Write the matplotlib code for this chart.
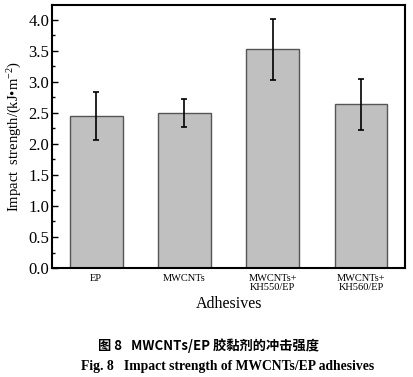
import matplotlib.pyplot as plt
import numpy as np

# impact strength of the adhesives, kJ/m^2
categories = ['EP', 'MWCNTs', 'MWCNTs+\nKH550/EP', 'MWCNTs+\nKH560/EP']
strength = [2.45, 2.50, 3.53, 2.64]
err_low = [0.39, 0.23, 0.50, 0.41]
err_high = [0.38, 0.23, 0.49, 0.40]

plt.rcParams['font.family'] = ['Liberation Serif', 'DejaVu Serif']
plt.rcParams['mathtext.fontset'] = 'custom'
plt.rcParams['mathtext.rm'] = 'Liberation Serif'
plt.rcParams['mathtext.it'] = 'Liberation Serif:italic'

fig = plt.figure(figsize=(4.13, 3.77), dpi=100)
ax = fig.add_axes([0.126, 0.289, 0.855, 0.698])

x = np.arange(len(categories))
ax.bar(x, strength, width=0.6, color='#c0c0c0', edgecolor='#555555', linewidth=1.0,
       yerr=[err_low, err_high], capsize=2.5,
       error_kw=dict(ecolor='black', elinewidth=1.2, capthick=1.2))

ax.set_xlim(-0.5, 3.5)
ax.set_ylim(0, 4.24)
ax.set_yticks(np.arange(0, 4.01, 0.5))
ax.set_yticks(np.arange(0.25, 4.2, 0.5), minor=True)
ax.set_yticklabels(['%.1f' % v for v in np.arange(0, 4.01, 0.5)], fontsize=12)
ax.set_xticks(x)
ax.set_xticklabels(categories, fontsize=7.5, linespacing=1.1)
ax.tick_params(axis='y', which='both', direction='in', right=False, width=1.0)
ax.tick_params(axis='y', which='major', length=4, pad=2)
ax.tick_params(axis='y', which='minor', length=2.5)
ax.tick_params(axis='x', length=0, pad=4)
for s in ax.spines.values():
    s.set_linewidth(1.5)

ax.set_ylabel('Impact  strength/(kJ\u2022m$^{\\mathrm{-2}}$)', fontsize=10.5, labelpad=3)
ax.set_xlabel('Adhesives', fontsize=11.5, labelpad=3)

fig.text(0.505, 0.082, '图 8   MWCNTs/EP 胶黏剂的冲击强度', ha='center', va='center',
         fontsize=9.5, fontweight='bold', family=['Noto Sans CJK SC', 'DejaVu Sans'])
fig.text(0.55, 0.028, 'Fig. 8   Impact strength of MWCNTs/EP adhesives', ha='center',
         va='center', fontsize=9.8, fontweight='bold')

fig.savefig('out.png', dpi=100)
